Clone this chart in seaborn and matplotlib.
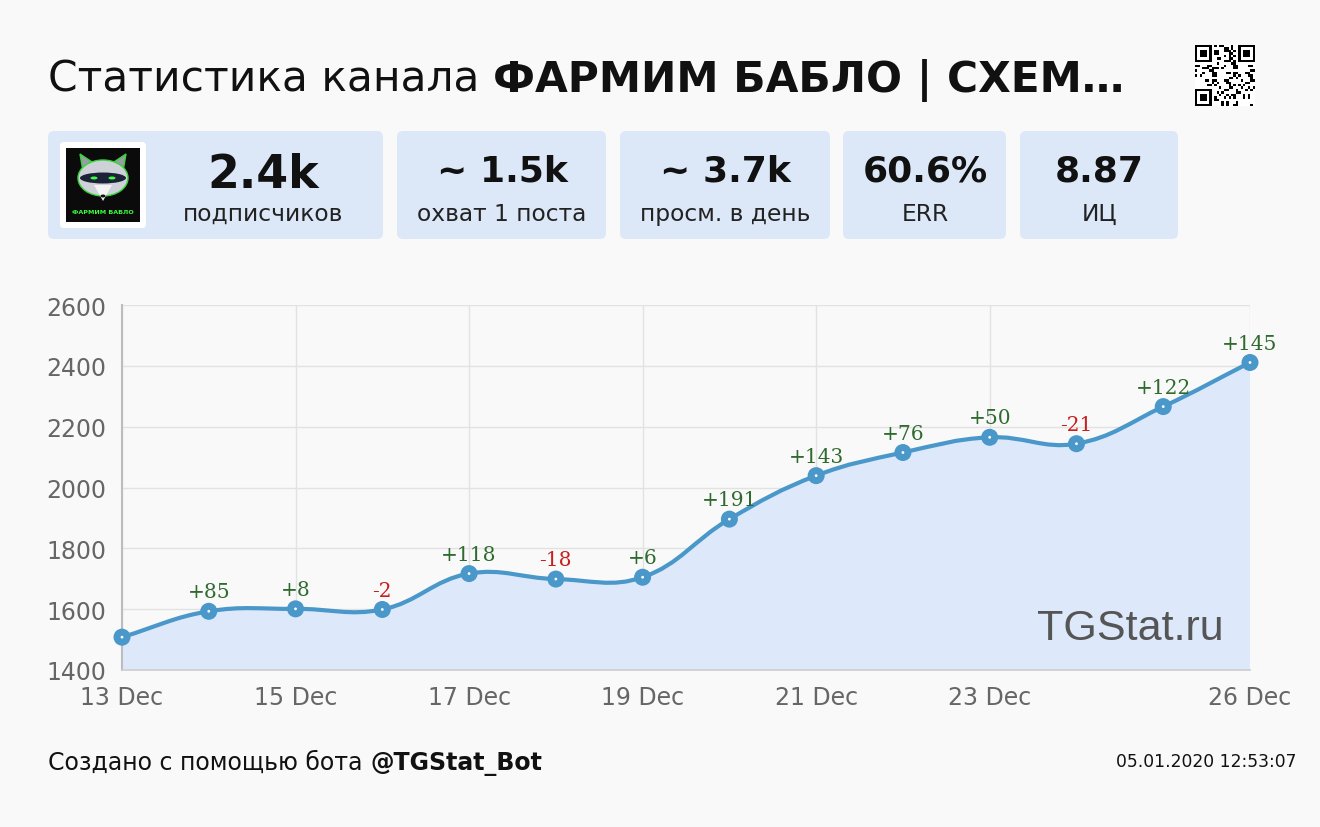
import numpy as np
import pandas as pd
import matplotlib
matplotlib.use("Agg")
import matplotlib.pyplot as plt
import seaborn as sns
import matplotlib.dates as mdates
from matplotlib.path import Path
from matplotlib.patches import PathPatch, FancyBboxPatch, Rectangle, Ellipse, Polygon

# ---------------- data ----------------
dates = pd.date_range("2019-12-13", "2019-12-26", freq="D")
subscribers = [1508, 1593, 1601, 1599, 1717, 1699, 1705, 1896, 2039, 2115, 2165, 2144, 2266, 2411]
changes = [None, 85, 8, -2, 118, -18, 6, 191, 143, 76, 50, -21, 122, 145]
tick_dates = ["2019-12-13", "2019-12-15", "2019-12-17", "2019-12-19", "2019-12-21", "2019-12-23", "2019-12-26"]
tick_labels = ["13 Dec", "15 Dec", "17 Dec", "19 Dec", "21 Dec", "23 Dec", "26 Dec"]
y_ticks = [1400, 1600, 1800, 2000, 2200, 2400, 2600]

card_values = ["2.4k", "~ 1.5k", "~ 3.7k", "60.6%", "8.87"]
card_labels = ["подписчиков", "охват 1 поста", "просм. в день", "ERR", "ИЦ"]
title_normal = "Статистика канала"
title_bold = "ФАРМИМ БАБЛО | СХЕМ…"
footer_normal = "Создано с помощью бота"
footer_bold = "@TGStat_Bot"
timestamp = "05.01.2020 12:53:07"
watermark = "TGStat.ru"

# ---------------- style ----------------
BG = "#f9f9f9"
CARD = "#dce8f8"
LINE = "#4a97c9"
FILL = "#dde9fb"
GRID = "#e2e2e2"
TICK = "#666666"
GREEN = "#2f6b2f"
RED = "#c81e1e"

sns.set_theme(style="white")
plt.rcParams["font.family"] = ["DejaVu Sans"]

W, H = 1320, 828
fig = plt.figure(figsize=(W / 100, H / 100), dpi=100, facecolor=BG)

# overlay axes in pixel coordinates
ov = fig.add_axes([0, 0, 1, 1], zorder=0)
ov.set_xlim(0, W)
ov.set_ylim(H, 0)
ov.axis("off")

# chart axes
L, R, T, B = 122, 1250, 306, 671
ax = fig.add_axes([L / W, 1 - B / H, (R - L) / W, (B - T) / H], zorder=1)
ax.set_facecolor("none")

x = mdates.date2num(dates)
ax.set_xlim(x[0], x[-1])
ax.set_ylim(1400, 2600)

# smooth spline (Chart.js style) computed in display space
def spline_verts(xd, yd, t=0.4):
    P = ax.transData.transform(np.column_stack([xd, yd]))
    n = len(P)
    cps = []
    for i in range(n):
        prev = P[max(i - 1, 0)]
        cur = P[i]
        nxt = P[min(i + 1, n - 1)]
        d01 = np.hypot(*(cur - prev))
        d12 = np.hypot(*(nxt - cur))
        tot = d01 + d12
        s01 = d01 / tot if tot else 0
        s12 = d12 / tot if tot else 0
        c1 = cur - t * s01 * (nxt - prev)
        c2 = cur + t * s12 * (nxt - prev)
        cps.append((c1, c2))
    verts = [P[0]]
    codes = [Path.MOVETO]
    for i in range(n - 1):
        verts += [cps[i][1], cps[i + 1][0], P[i + 1]]
        codes += [Path.CURVE4] * 3
    verts = ax.transData.inverted().transform(np.array(verts))
    return verts, codes

verts, codes = spline_verts(x, subscribers)
fill_verts = np.vstack([verts, [[x[-1], 1400], [x[0], 1400], [x[0], 1400]]])
fill_codes = codes + [Path.LINETO, Path.LINETO, Path.CLOSEPOLY]
ax.add_patch(PathPatch(Path(fill_verts, fill_codes), facecolor=FILL, edgecolor="none", zorder=1))
ax.add_patch(PathPatch(Path(verts, codes), facecolor="none", edgecolor=LINE, lw=3, zorder=3))

sns.scatterplot(x=x, y=subscribers, ax=ax, s=150, color=LINE, edgecolor="none", zorder=4, legend=False)
ax.collections[-1].set_clip_on(False)
sns.scatterplot(x=x, y=subscribers, ax=ax, s=4, color="white", edgecolor="none", zorder=5, legend=False)
ax.collections[-1].set_clip_on(False)

for xi, yi, c in zip(x, subscribers, changes):
    if c is None:
        continue
    ax.annotate(f"{c:+d}", (xi, yi), xytext=(0, 10), textcoords="offset points",
                ha="center", va="baseline", fontsize=14.5, family="DejaVu Serif",
                color=GREEN if c >= 0 else RED, zorder=6, annotation_clip=False)

ax.set_xticks(mdates.date2num(pd.to_datetime(tick_dates)))
ax.set_xticklabels(tick_labels)
ax.set_yticks(y_ticks)
ax.set_yticklabels([str(v) for v in y_ticks])
ax.grid(True, color=GRID, lw=1)
ax.set_axisbelow(True)
ax.tick_params(axis="both", colors=GRID, labelcolor=TICK, labelsize=17, length=9, width=1, pad=2)
for s in ["top", "right"]:
    ax.spines[s].set_visible(False)
ax.spines["left"].set_color("#bdbdbd")
ax.spines["left"].set_linewidth(1.5)
ax.spines["bottom"].set_color("#cfcfcf")
ax.set_xlabel("")
ax.set_ylabel("")

# watermark drawn within chart axes (above the fill), positioned in pixel coords
ax.text(1037, 640, watermark, transform=ov.transData, fontsize=31, family="Liberation Sans",
        color="#555555", ha="left", va="baseline", zorder=2)

# ---------------- title ----------------
TS = 30.5
t1 = ov.text(48, 92, title_normal, fontsize=TS, color="#111111", ha="left", va="baseline")
fig.canvas.draw()
rend = fig.canvas.get_renderer()
bb = t1.get_window_extent(rend)
ov.text(bb.x1 + 0.318 * TS * 100 / 72, 92, title_bold, fontsize=TS, weight="bold",
        color="#111111", ha="left", va="baseline")

# ---------------- cards ----------------
cards = [(48, 383), (397, 606), (620, 830), (843, 1006), (1020, 1178)]
centers = [263, 502, 725, 925, 1099]
for (x0, x1), cx, val, lab in zip(cards, centers, card_values, card_labels):
    ov.add_patch(FancyBboxPatch((x0, 132), x1 - x0, 108, boxstyle="round,pad=0,rounding_size=6",
                                facecolor=CARD, edgecolor="none"))
    big = 33 if val == "2.4k" else 26
    ov.text(cx, 188 if big == 33 else 182, val, fontsize=big, weight="bold", color="#111111",
            ha="center", va="baseline")
    ov.text(cx, 221, lab, fontsize=16.8, color="#222222", ha="center", va="baseline")

# logo
ov.add_patch(FancyBboxPatch((60, 143), 86, 86, boxstyle="round,pad=0,rounding_size=4",
                            facecolor="white", edgecolor="none"))
ov.add_patch(Rectangle((66, 149), 74, 74, facecolor="#0b0b0b", edgecolor="none"))
ov.add_patch(Polygon([[80, 155], [92, 163], [84, 178]], closed=True, facecolor="#9a9ca8", edgecolor="#37d437", lw=1))
ov.add_patch(Polygon([[126, 155], [114, 163], [122, 178]], closed=True, facecolor="#9a9ca8", edgecolor="#37d437", lw=1))
ov.add_patch(Ellipse((103, 179), 50, 36, facecolor="#cfd1d8", edgecolor="#37d437", lw=1))
ov.add_patch(Ellipse((103, 179), 46, 11, facecolor="#1c2238", edgecolor="none"))
ov.add_patch(Ellipse((94, 179), 7, 3, facecolor="#3dff3d", edgecolor="none"))
ov.add_patch(Ellipse((112, 179), 7, 3, facecolor="#3dff3d", edgecolor="none"))
ov.add_patch(Polygon([[94, 186], [112, 186], [103, 202]], closed=True, facecolor="#f4f4f4", edgecolor="none"))
ov.add_patch(Ellipse((103, 197), 5, 3, facecolor="#111111", edgecolor="none"))
ov.text(103, 213, "ФАРМИМ БАБЛО", fontsize=4.6, weight="bold", color="#3dff3d", ha="center", va="center")

# QR code (decorative)
n = 25
qr = np.zeros((n, n))
seed = "https://tgstat.ru/channel/farmim_bablo"
for i in range(n):
    for j in range(n):
        qr[i, j] = ((ord(seed[(i * 3 + j) % len(seed)]) + i * j + j * 5) % 3 == 0)
def finder(r, c):
    qr[r:r + 7, c:c + 7] = 1
    qr[r + 1:r + 6, c + 1:c + 6] = 0
    qr[r + 2:r + 5, c + 2:c + 5] = 1
qr[0:8, 0:8] = 0
finder(0, 0)
qr[0:8, n - 8:n] = 0
finder(0, n - 7)
qr[n - 8:n, 0:8] = 0
finder(n - 7, 0)
ov.imshow(1 - qr, cmap="gray", extent=(1195, 1255, 107, 46), interpolation="nearest", vmin=0, vmax=1,
          aspect="auto", zorder=2)
ov.set_xlim(0, W)
ov.set_ylim(H, 0)

# ---------------- footer ----------------
FS = 17
f1 = ov.text(48, 770, footer_normal, fontsize=FS, color="#111111", ha="left", va="baseline")
fig.canvas.draw()
bb = f1.get_window_extent(fig.canvas.get_renderer())
ov.text(bb.x1 + 0.318 * FS * 100 / 72, 770, footer_bold, fontsize=FS, weight="bold", color="#111111",
        ha="left", va="baseline")
ov.text(1296, 767, timestamp, fontsize=12.3, color="#111111", ha="right", va="baseline")

fig.savefig("out.png", dpi=100, facecolor=BG)
